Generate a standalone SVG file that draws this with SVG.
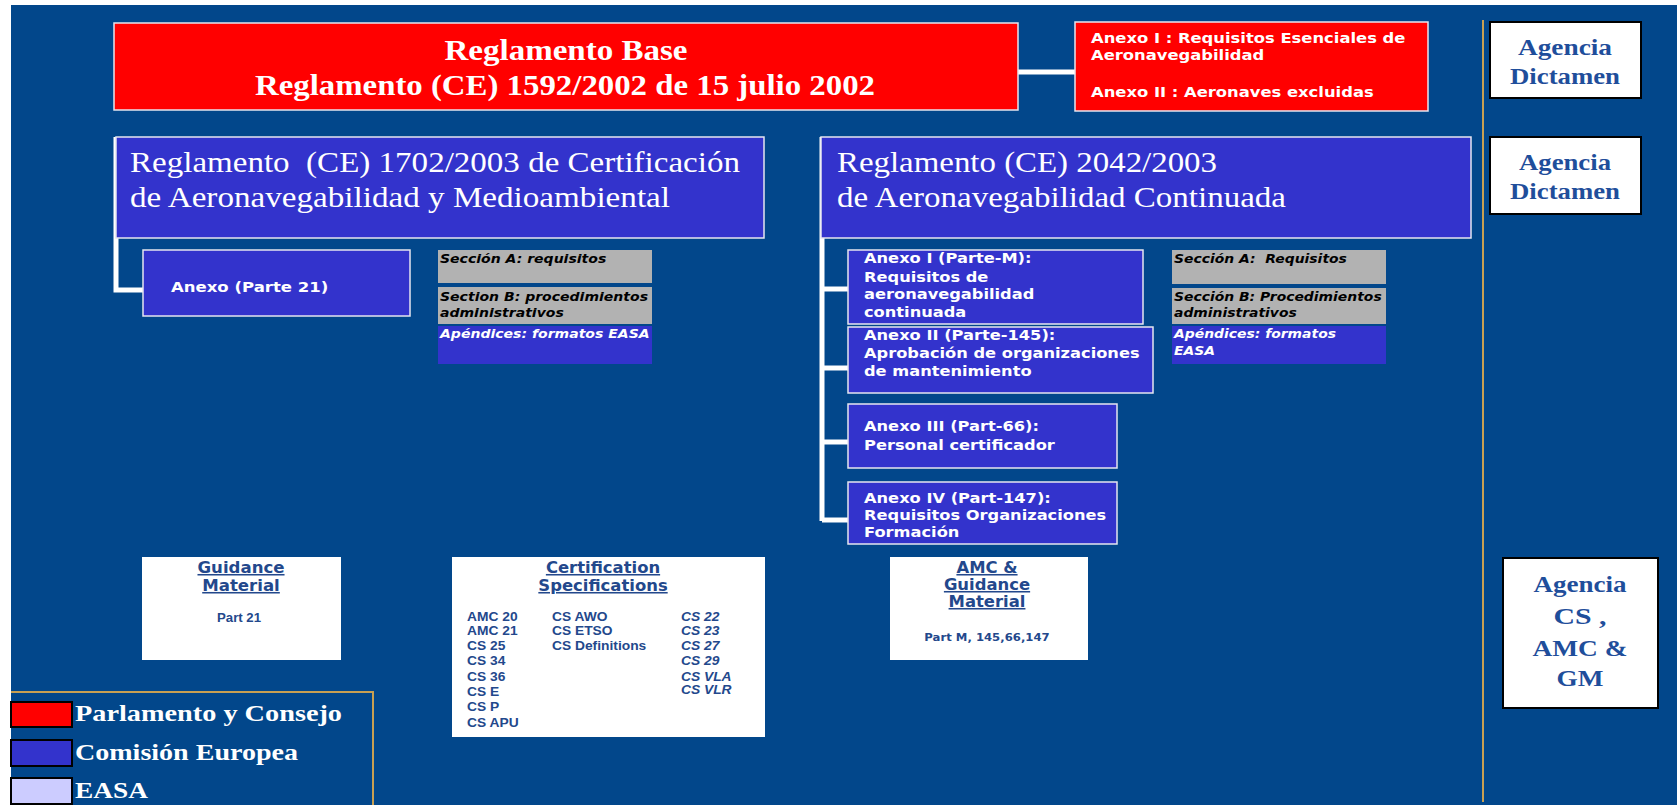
<svg xmlns="http://www.w3.org/2000/svg" width="1677" height="805" viewBox="0 0 1677 805">
<style>
.red{fill:#FF0000;stroke:#E6E6F0;stroke-width:1.5}
.blue{fill:#3333CC;stroke:#E6E6F0;stroke-width:1.5}
.gray{fill:#B2B2B2}
.bluef{fill:#3333CC}
.wbox{fill:#FFFFFF}
.ag{fill:#FFFFFF;stroke:#000000;stroke-width:2}
.conn{stroke:#FFFFFF;stroke-width:5;fill:none}
.gold{stroke:#C8A052;stroke-width:2;fill:none}
.sw{stroke:#000000;stroke-width:2}
.tb{font-family:"Liberation Serif","Times New Roman",serif;font-weight:bold;fill:#FFFFFF}
.tr{font-family:"Liberation Serif","Times New Roman",serif;font-size:29px;fill:#FFFFFF}
.agt{font-family:"Liberation Serif","Times New Roman",serif;font-weight:bold;font-size:24px;fill:#1F4E9B;text-anchor:middle}
.vw{font-family:"DejaVu Sans",Verdana,sans-serif;font-weight:bold;font-size:14px;fill:#FFFFFF}
.sec{font-family:"DejaVu Sans",Verdana,sans-serif;font-weight:bold;font-style:italic;font-size:12px;fill:#000000}
.secw{font-family:"DejaVu Sans",Verdana,sans-serif;font-weight:bold;font-style:italic;font-size:12px;fill:#FFFFFF}
.hd{font-family:"DejaVu Sans",Verdana,sans-serif;font-weight:bold;font-size:15.5px;fill:#23488C;text-anchor:middle;text-decoration:underline}
.sm{font-family:"DejaVu Sans",Verdana,sans-serif;font-weight:bold;font-size:11px;fill:#23488C;text-anchor:middle}
.ls{font-family:"Liberation Sans",Arial,sans-serif;font-weight:bold;font-size:12px;fill:#23488C}
.lsi{font-family:"Liberation Sans",Arial,sans-serif;font-weight:bold;font-style:italic;font-size:12px;fill:#23488C}
</style>
<rect x="0" y="0" width="1677" height="805" fill="#FFFFFF"/>
<rect x="11" y="5" width="1666" height="800" fill="#02478B"/>

<g id="connectors">
<path class="conn" d="M1018,72 H1075"/>
<path class="conn" d="M116,137 V290 H143"/>
<path class="conn" d="M822,137 V521"/>
<path class="conn" d="M822,289 H848"/>
<path class="conn" d="M822,368 H848"/>
<path class="conn" d="M822,442 H848"/>
<path class="conn" d="M822,520 H848"/>
<path class="gold" d="M1483,20 V802"/>
</g>

<g id="reglamento-base">
<rect class="red" x="114" y="23" width="904" height="87"/>
<text class="tb" font-size="29" x="566" y="60" text-anchor="middle" textLength="243" lengthAdjust="spacingAndGlyphs">Reglamento Base</text>
<text class="tb" font-size="29" x="565" y="95" text-anchor="middle" textLength="620" lengthAdjust="spacingAndGlyphs">Reglamento (CE) 1592/2002 de 15 julio 2002</text>
</g>

<g id="anexos-base">
<rect class="red" x="1075" y="22" width="353" height="89"/>
<g transform="matrix(1.17 0 0 1 1091 0)">
<text class="vw" x="0" y="43">Anexo I : Requisitos Esenciales de</text>
<text class="vw" x="0" y="60">Aeronavegabilidad</text>
<text class="vw" x="0" y="97">Anexo II : Aeronaves excluidas</text>
</g>
</g>

<g id="agencia-dictamen-1">
<rect class="ag" x="1490" y="22" width="151" height="76"/>
<text class="agt" x="1565" y="55" textLength="94" lengthAdjust="spacingAndGlyphs">Agencia</text>
<text class="agt" x="1565" y="84" textLength="110" lengthAdjust="spacingAndGlyphs">Dictamen</text>
</g>

<g id="reglamento-1702">
<rect class="blue" x="116" y="137" width="648" height="101"/>
<text class="tr" x="130" y="172" textLength="610" lengthAdjust="spacingAndGlyphs" xml:space="preserve">Reglamento  (CE) 1702/2003 de Certificación</text>
<text class="tr" x="130" y="207" textLength="540" lengthAdjust="spacingAndGlyphs">de Aeronavegabilidad y Medioambiental</text>
</g>

<g id="reglamento-2042">
<rect class="blue" x="821" y="137" width="650" height="101"/>
<text class="tr" x="837" y="172" textLength="380" lengthAdjust="spacingAndGlyphs">Reglamento (CE) 2042/2003</text>
<text class="tr" x="837" y="207" textLength="449" lengthAdjust="spacingAndGlyphs">de Aeronavegabilidad Continuada</text>
</g>

<g id="agencia-dictamen-2">
<rect class="ag" x="1490" y="137" width="151" height="77"/>
<text class="agt" x="1565" y="170" textLength="92" lengthAdjust="spacingAndGlyphs">Agencia</text>
<text class="agt" x="1565" y="199" textLength="110" lengthAdjust="spacingAndGlyphs">Dictamen</text>
</g>

<g id="anexo-parte21">
<rect class="blue" x="143" y="250" width="267" height="66"/>
<text class="vw" x="0" y="292" transform="matrix(1.18 0 0 1 171 0)">Anexo (Parte 21)</text>
</g>

<g id="secciones-parte21">
<rect class="gray" x="438" y="250" width="214" height="33"/>
<rect class="gray" x="438" y="287" width="214" height="37"/>
<rect class="bluef" x="438" y="326" width="214" height="38"/>
<g transform="matrix(1.17 0 0 1 440 0)">
<text class="sec" x="0" y="263">Sección A: requisitos</text>
<text class="sec" x="0" y="301">Section B: procedimientos</text>
<text class="sec" x="0" y="317">administrativos</text>
<text class="secw" x="0" y="338">Apéndices: formatos EASA</text>
</g>
</g>

<g id="anexo-I-parte-M">
<rect class="blue" x="848" y="250" width="295" height="74"/>
<g transform="matrix(1.16 0 0 1 864 0)">
<text class="vw" x="0" y="263">Anexo I (Parte-M):</text>
<text class="vw" x="0" y="282">Requisitos de</text>
<text class="vw" x="0" y="299">aeronavegabilidad</text>
<text class="vw" x="0" y="317">continuada</text>
</g>
</g>

<g id="anexo-II-parte-145">
<rect class="blue" x="848" y="327" width="305" height="66"/>
<g transform="matrix(1.16 0 0 1 864 0)">
<text class="vw" x="0" y="340">Anexo II (Parte-145):</text>
<text class="vw" x="0" y="358">Aprobación de organizaciones</text>
<text class="vw" x="0" y="376">de mantenimiento</text>
</g>
</g>

<g id="anexo-III-part-66">
<rect class="blue" x="848" y="404" width="269" height="64"/>
<g transform="matrix(1.16 0 0 1 864 0)">
<text class="vw" x="0" y="431">Anexo III (Part-66):</text>
<text class="vw" x="0" y="450">Personal certificador</text>
</g>
</g>

<g id="anexo-IV-part-147">
<rect class="blue" x="848" y="482" width="269" height="62"/>
<g transform="matrix(1.16 0 0 1 864 0)">
<text class="vw" x="0" y="503">Anexo IV (Part-147):</text>
<text class="vw" x="0" y="520">Requisitos Organizaciones</text>
<text class="vw" x="0" y="537">Formación</text>
</g>
</g>

<g id="secciones-2042">
<rect class="gray" x="1172" y="250" width="214" height="34"/>
<rect class="gray" x="1172" y="288" width="214" height="36"/>
<rect class="bluef" x="1172" y="326" width="214" height="38"/>
<g transform="matrix(1.16 0 0 1 1174 0)">
<text class="sec" x="0" y="263" xml:space="preserve">Sección A:  Requisitos</text>
<text class="sec" x="0" y="301">Sección B: Procedimientos</text>
<text class="sec" x="0" y="317">administrativos</text>
<text class="secw" x="0" y="338">Apéndices: formatos</text>
<text class="secw" x="0" y="355">EASA</text>
</g>
</g>

<g id="guidance-material">
<rect class="wbox" x="142" y="557" width="199" height="103"/>
<g transform="matrix(1.07 0 0 1 241 0)">
<text class="hd" x="0" y="573">Guidance</text>
<text class="hd" x="0" y="591">Material</text>
</g>
<text class="ls" x="0" y="622" text-anchor="middle" font-size="10.5" transform="matrix(1.1 0 0 1 239 0)">Part 21</text>
</g>

<g id="certification-specifications">
<rect class="wbox" x="452" y="557" width="313" height="180"/>
<g transform="matrix(1.06 0 0 1 603 0)">
<text class="hd" x="0" y="573">Certification</text>
<text class="hd" x="0" y="591">Specifications</text>
</g>
<g transform="matrix(1.15 0 0 1 467 0)">
<text class="ls" x="0" y="621">AMC 20</text>
<text class="ls" x="0" y="635">AMC 21</text>
<text class="ls" x="0" y="650">CS 25</text>
<text class="ls" x="0" y="665">CS 34</text>
<text class="ls" x="0" y="681">CS 36</text>
<text class="ls" x="0" y="696">CS E</text>
<text class="ls" x="0" y="711">CS P</text>
<text class="ls" x="0" y="727">CS APU</text>
</g>
<g transform="matrix(1.15 0 0 1 552 0)">
<text class="ls" x="0" y="621">CS AWO</text>
<text class="ls" x="0" y="635">CS ETSO</text>
<text class="ls" x="0" y="650">CS Definitions</text>
</g>
<g transform="matrix(1.15 0 0 1 681 0)">
<text class="lsi" x="0" y="621">CS 22</text>
<text class="lsi" x="0" y="635">CS 23</text>
<text class="lsi" x="0" y="650">CS 27</text>
<text class="lsi" x="0" y="665">CS 29</text>
<text class="lsi" x="0" y="681">CS VLA</text>
<text class="lsi" x="0" y="694">CS VLR</text>
</g>
</g>

<g id="amc-guidance">
<rect class="wbox" x="890" y="557" width="198" height="103"/>
<g transform="matrix(1.06 0 0 1 987 0)">
<text class="hd" x="0" y="573">AMC &amp;</text>
<text class="hd" x="0" y="590">Guidance</text>
<text class="hd" x="0" y="607">Material</text>
<text class="sm" x="0" y="641">Part M, 145,66,147</text>
</g>
</g>

<g id="agencia-cs-amc-gm">
<rect class="ag" x="1503" y="558" width="155" height="150"/>
<text class="agt" x="1580" y="592" textLength="93" lengthAdjust="spacingAndGlyphs">Agencia</text>
<text class="agt" x="1580" y="624" textLength="53" lengthAdjust="spacingAndGlyphs">CS ,</text>
<text class="agt" x="1580" y="656" textLength="95" lengthAdjust="spacingAndGlyphs">AMC &amp;</text>
<text class="agt" x="1580" y="686" textLength="47" lengthAdjust="spacingAndGlyphs">GM</text>
</g>

<g id="legend">
<path class="gold" d="M11,692 H373 V805"/>
<rect class="sw" x="11" y="702" width="61" height="25" fill="#FF0000"/>
<rect class="sw" x="11" y="740" width="61" height="26" fill="#3333CC"/>
<rect class="sw" x="11" y="778" width="61" height="26" fill="#CCCCFF"/>
<text class="tb" font-size="24" x="75" y="721" textLength="267" lengthAdjust="spacingAndGlyphs">Parlamento y Consejo</text>
<text class="tb" font-size="24" x="75" y="760" textLength="223" lengthAdjust="spacingAndGlyphs">Comisión Europea</text>
<text class="tb" font-size="24" x="75" y="798" textLength="73" lengthAdjust="spacingAndGlyphs">EASA</text>
</g>
</svg>
